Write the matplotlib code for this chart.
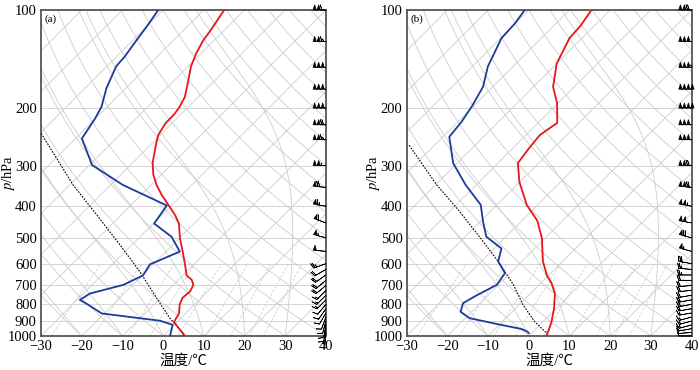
import numpy as np
import matplotlib.pyplot as plt

plt.rcParams['font.family'] = ['Liberation Serif', 'Noto Sans CJK SC']
plt.rcParams['mathtext.fontset'] = 'stix'

# skew of isotherms, degC per decade of pressure
SKEW = 80.0

# sounding (a): pressure / hPa, temperature / degC
p_t_a = [100, 109, 117, 124, 136, 149, 164, 185, 198, 208, 223, 242, 260, 295, 320,
         344, 369, 396, 426, 452, 501, 551, 606, 652, 672, 697, 730, 764, 802, 853,
         905, 940, 1000]
t_a = [-65.0, -64.0, -63.2, -62.7, -61.2, -59.3, -56.6, -53.3, -52.2, -51.7, -51.6,
       -50.5, -48.6, -45.0, -42.0, -38.7, -35.0, -30.9, -26.7, -23.7, -19.9, -15.9,
       -12.0, -9.1, -6.8, -5.1, -4.3, -4.6, -3.6, -1.6, -0.8, 1.5, 5.4]
p_td_a = [100, 112, 124, 139, 149, 174, 198, 215, 248, 299, 344, 398, 452, 496, 551,
          603, 652, 697, 741, 775, 802, 853, 898, 924, 1000]
td_a = [-81.2, -80.0, -79.1, -78.0, -77.7, -74.7, -71.4, -70.1, -68.4, -59.4, -47.0,
        -31.1, -29.8, -22.3, -16.6, -20.8, -19.8, -22.3, -28.4, -29.3, -26.1, -20.6,
        -4.5, -0.4, 1.7]
p_parcel_a = [239, 344, 426, 526, 636, 764, 882, 970, 1000]
t_parcel_a = [-79.7, -59.2, -45.9, -32.9, -21.4, -11.0, -2.7, 3.5, 5.1]

# sounding (b)
p_t_b = [100, 112, 122, 133, 146, 160, 172, 193, 222, 242, 266, 295, 337, 396, 443,
         501, 591, 652, 688, 741, 822, 905, 940, 980, 1000]
t_b = [-64.6, -63.4, -63.1, -61.6, -60.0, -57.3, -55.2, -50.2, -45.3, -46.6, -46.0,
       -45.1, -40.1, -32.7, -26.2, -20.8, -14.8, -10.4, -7.4, -4.0, -0.6, 2.1, 3.0,
       3.9, 4.5]
p_td_b = [100, 110, 122, 137, 149, 172, 198, 220, 245, 295, 344, 396, 447, 496, 539,
          591, 641, 697, 751, 793, 843, 882, 923, 952, 970, 980]
td_b = [-81.0, -80.1, -79.8, -77.7, -76.2, -72.4, -70.3, -69.1, -68.4, -61.0, -52.6,
        -44.0, -39.2, -34.8, -28.2, -25.8, -21.3, -20.4, -22.8, -24.2, -22.7, -18.9,
        -9.9, -3.5, -1.4, -0.7]
p_parcel_b = [260, 344, 416, 514, 591, 697, 802, 905, 980, 1000]
t_parcel_b = [-76.2, -59.7, -47.4, -34.3, -25.8, -16.3, -9.1, -2.0, 3.7, 4.5]

# wind barbs: level / hPa, speed, direction (deg, from)
wind_p_a = [100, 125, 150, 175, 200, 225, 250, 300, 350, 400, 450, 500, 550,
            600, 625, 650, 675, 700, 725, 750, 775, 800, 825, 850, 875, 900, 925, 950, 975]
wind_spd_a = [110, 115, 150, 150, 150, 120, 115, 105, 70, 65, 60, 55, 50,
              25, 20, 20, 18, 18, 15, 15, 15, 12, 12, 10, 10, 10, 8, 8, 5]
wind_dir_a = [270, 270, 270, 270, 270, 270, 270, 270, 275, 280, 290, 285, 275,
              250, 240, 235, 230, 230, 225, 225, 225, 220, 215, 210, 200, 195, 190, 190, 185]

wind_p_b = [100, 125, 150, 175, 200, 225, 250, 300, 350, 400, 450, 500, 550,
            600, 625, 650, 675, 700, 725, 750, 775, 800, 825, 850, 875, 900, 925, 950, 975, 1000]
wind_spd_b = [120, 150, 155, 200, 200, 150, 150, 120, 120, 105, 100, 70, 55,
              30, 25, 25, 20, 20, 20, 20, 20, 20, 20, 15, 15, 15, 15, 10, 10, 10]
wind_dir_b = [270, 270, 270, 270, 270, 270, 270, 270, 275, 280, 280, 285, 285,
              280, 275, 270, 270, 265, 265, 260, 260, 260, 260, 260, 255, 255, 255, 260, 265, 270]

p_ticks = [100, 200, 300, 400, 500, 600, 700, 800, 900, 1000]
t_ticks = [-30, -20, -10, 0, 10, 20, 30, 40]


def skew_x(t, p):
    return np.asarray(t, float) + SKEW * np.log10(1000.0 / np.asarray(p, float))


def sat_mix(t_k, p):
    es = 6.112 * np.exp(17.67 * (t_k - 273.15) / (t_k - 29.65))
    return 0.622 * es / (p - es)


def moist_adiabat(t0, p_levels):
    # pseudo-adiabatic ascent from 1000 hPa, simple small-step integration
    t = t0 + 273.15
    out = [t]
    for i in range(1, len(p_levels)):
        p0, p1 = p_levels[i - 1], p_levels[i]
        rs = sat_mix(t, p0)
        dtdp = (287.0 * t + 2.5e6 * rs) / (1004.0 + 2.5e6 ** 2 * rs * 0.622 / (287.0 * t ** 2)) / p0
        t = t + dtdp * (p1 - p0)
        out.append(t)
    return np.array(out) - 273.15


def draw_background(ax):
    pg = np.logspace(3, 2, 400)
    gc = '#cdcdcd'
    for p in p_ticks:
        ax.axhline(p, color='#d4d4d4', lw=0.7, zorder=1)
    for t0 in range(-160, 50, 10):
        ax.plot(skew_x(t0, pg), pg, color=gc, lw=0.6, zorder=1)
    for th in range(-30, 200, 10):
        t = (th + 273.15) * (pg / 1000.0) ** 0.286 - 273.15
        ax.plot(skew_x(t, pg), pg, color=gc, lw=0.6, zorder=1)
    for t0 in range(-20, 60, 10):
        ax.plot(skew_x(moist_adiabat(t0, pg), pg), pg, color=gc, lw=0.6, zorder=1)
    pm = np.linspace(1000, 600, 50)
    for w in [0.4, 1, 2, 3, 5, 8, 12, 16, 20]:
        e = (w / 1000.0) * pm / (0.622 + w / 1000.0)
        ln = np.log(e / 6.112)
        td = 243.5 * ln / (17.67 - ln)
        ax.plot(skew_x(td, pm), pm, color=gc, lw=0.6, ls=(0, (3, 2)), zorder=1)


fig = plt.figure(figsize=(7.0, 3.7), dpi=100)
panels = [
    (0.0586, '(a)', p_t_a, t_a, p_td_a, td_a, p_parcel_a, t_parcel_a,
     wind_p_a, wind_spd_a, wind_dir_a),
    (0.5810, '(b)', p_t_b, t_b, p_td_b, td_b, p_parcel_b, t_parcel_b,
     wind_p_b, wind_spd_b, wind_dir_b),
]

for left, tag, pt, tt, pd_, tdd, pp, tp, wp, ws, wd in panels:
    ax = fig.add_axes([left, 0.092, 0.407, 0.881])
    ax.set_yscale('log')
    ax.set_ylim(1000, 100)
    ax.set_xlim(-30, 40)
    draw_background(ax)

    ax.plot(skew_x(tp, pp), pp, color='black', lw=0.8, ls=(0, (1.5, 1.2)), zorder=3)
    ax.plot(skew_x(tt, pt), pt, color='#e8161b', lw=1.3, zorder=4)
    ax.plot(skew_x(tdd, pd_), pd_, color='#1b3a9a', lw=1.3, zorder=4)

    wd_rad = np.deg2rad(wd)
    u = -np.array(ws) * np.sin(wd_rad)
    v = -np.array(ws) * np.cos(wd_rad)
    ax.barbs(np.full(len(wp), 40.0), wp, u, v, length=4.3, lw=0.5,
             color='black', clip_on=False, zorder=5)

    ax.set_yticks(p_ticks)
    ax.set_yticklabels([str(p) for p in p_ticks])
    ax.minorticks_off()
    ax.set_xticks(t_ticks)
    ax.set_xticklabels([f'\u2212{abs(t)}' if t < 0 else str(t) for t in t_ticks])
    ax.tick_params(length=0, labelsize=10.5, pad=3)
    ax.set_xlabel('温度/℃', fontsize=10.5, labelpad=1)
    ax.set_ylabel('$p$/hPa', fontsize=10.5)
    ax.yaxis.set_label_coords(-0.085, 0.5)
    ax.text(0.012, 0.985, tag, transform=ax.transAxes, fontsize=8, va='top', ha='left')
    for s in ax.spines.values():
        s.set_color('#555555')
        s.set_linewidth(1.3)

fig.savefig('out.png', dpi=100)
